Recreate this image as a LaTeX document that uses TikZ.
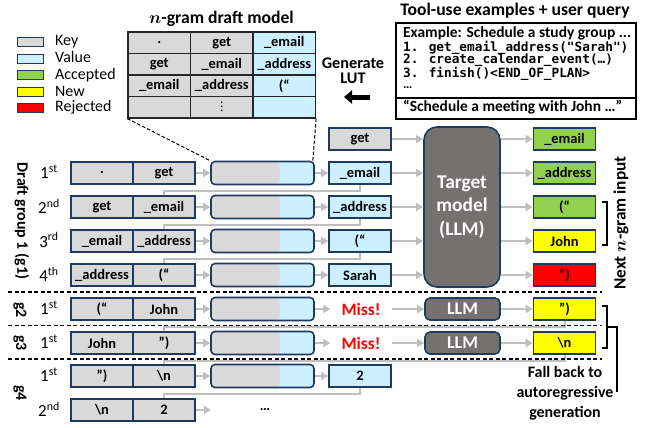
\documentclass[tikz,border=0pt]{standalone}
\usepackage{fontspec}
\setmainfont{Carlito}
\newfontfamily\codefont{DejaVu Sans Mono}
\newfontfamily\symfont{DejaVu Sans}
\usetikzlibrary{arrows.meta,backgrounds}
\definecolor{navy}{HTML}{1F3A5F}
\definecolor{keyg}{HTML}{D9D9D9}
\definecolor{valb}{HTML}{CCF0FF}
\definecolor{accg}{HTML}{92D050}
\definecolor{newy}{HTML}{FFFF00}
\definecolor{rejr}{HTML}{FF0000}
\definecolor{tgt}{HTML}{767171}
\definecolor{arr}{HTML}{BFBFBF}
\begin{document}
\begin{tikzpicture}[x=1bp,y=-1bp,
 cell/.style={draw=navy, line width=1.6bp, minimum width=62bp, minimum height=22bp, inner sep=0pt,
   font=\fontsize{14.5}{15}\selectfont\bfseries},
 kc/.style={cell, fill=keyg}, vc/.style={cell, fill=valb}, ac/.style={cell, fill=accg},
 nc/.style={cell, fill=newy}, rc/.style={cell, fill=rejr},
 tc/.style={draw=black!85, line width=1.3bp, minimum width=62.5bp, minimum height=21.5bp, inner sep=0pt,
   font=\fontsize{14.5}{15}\selectfont\bfseries},
 tk/.style={tc, fill=keyg}, tv/.style={tc, fill=valb},
 lk/.style={draw=navy, line width=1.6bp, rounded corners=4bp, minimum width=103bp, minimum height=23bp, inner sep=0pt,
   path picture={\fill[valb] (path picture bounding box.south west) rectangle (path picture bounding box.north east);
                 \fill[keyg] (path picture bounding box.south west) rectangle ([xshift=-34bp]path picture bounding box.north east);}},
 llm/.style={draw=navy, line width=1.6bp, fill=tgt, rounded corners=5bp, minimum width=75bp, minimum height=22bp,
   inner sep=0pt, text=white, font=\fontsize{18}{19}\selectfont\bfseries},
 ga/.style={draw=arr, line width=2bp, -{Triangle[length=7bp,width=8bp]}},
 fb/.style={draw=arr, line width=2bp},
 sep/.style={draw=black, line width=1.2bp, dash pattern=on 4bp off 2.5bp},
 zoomln/.style={draw=black, line width=1bp, dash pattern=on 3.5bp off 2bp},
 miss/.style={text=red, font=\fontsize{17.4}{18}\selectfont\bfseries, inner xsep=11bp, inner ysep=2bp},
 ord/.style={font=\fontsize{17}{18}\selectfont, inner sep=0pt},
 lab/.style={font=\fontsize{16}{17}\selectfont\bfseries, inner sep=0pt},
 leg/.style={draw=navy, line width=1.6bp, minimum width=26bp, minimum height=9bp, inner sep=0pt},
 legt/.style={font=\fontsize{16}{16}\selectfont, anchor=west, inner sep=0pt},
 brk/.style={draw=black, line width=2bp},
]
\useasboundingbox (0,0) rectangle (650,427);

% ---------- legend ----------
\node[leg, fill=keyg] (lg1) at (30.5,42) {};
\node[leg, fill=valb] (lg2) at (30.5,59) {};
\node[leg, fill=accg] (lg3) at (30.5,75) {};
\node[leg, fill=newy] (lg4) at (30.5,92) {};
\node[leg, fill=rejr] (lg5) at (30.5,108) {};
\node[legt] (lt1) at (55,42) {Key};
\node[legt] (lt2) at (55,57.5) {Value};
\node[legt] (lt3) at (55,75) {Accepted};
\node[legt] (lt4) at (55,91) {New};
\node[legt] (lt5) at (55,107) {Rejected};

% ---------- n-gram table ----------
\node[font=\fontsize{17.7}{19}\selectfont\bfseries] (ttl) at (221.5,19) {{\boldmath$n$}-gram draft model};
\node[tk] (t11) at (159.25,42.75) {.};
\node[tk] (t12) at (221.75,42.75) {get};
\node[tv] (t13) at (284.25,42.75) {\_email};
\node[tk] (t21) at (159.25,64.25) {get};
\node[tk] (t22) at (221.75,64.25) {\_email};
\node[tv] (t23) at (284.25,64.25) {\_address};
\node[tk] (t31) at (159.25,85.75) {\_email};
\node[tk] (t32) at (221.75,85.75) {\_address};
\node[tv] (t33) at (284.25,85.75) {(“};
\node[tk] (t41) at (159.25,107.25) {};
\node[tk, font=\symfont\fontsize{12}{12}\selectfont] (t42) at (221.75,107.25) {⋮};
\node[tv] (t43) at (284.25,107.25) {};

% ---------- tool-use box ----------
\node[font=\fontsize{17.7}{19}\selectfont\bfseries] (tut) at (515,11) {Tool-use examples + user query};
\node[draw=black, line width=1.5bp, minimum width=240bp, minimum height=75bp, inner sep=0pt, anchor=north west] (tbt) at (395,22) {};
\node[draw=black, line width=1.5bp, minimum width=240bp, minimum height=21bp, inner sep=0pt, anchor=north west] (tbb) at (395,97) {};
\node[anchor=west, inner sep=0pt, font=\fontsize{15.5}{16}\selectfont\bfseries] (ex0) at (403,33) {Example: Schedule a study group ...};
\node[anchor=west, inner sep=0pt, font=\codefont\fontsize{12.8}{13}\selectfont\bfseries] (ex1) at (403,47.5) {1. get\_email\_address("Sarah")};
\node[anchor=west, inner sep=0pt, font=\codefont\fontsize{12.8}{13}\selectfont\bfseries] (ex2) at (403,60.5) {2. create\_calendar\_event(…)};
\node[anchor=west, inner sep=0pt, font=\codefont\fontsize{12.8}{13}\selectfont\bfseries] (ex3) at (403,73.5) {3. finish()<END\_OF\_PLAN>};
\node[anchor=west, inner sep=0pt, font=\fontsize{13}{13}\selectfont\bfseries] (ex4) at (403,87.5) {…};
\node[anchor=west, inner sep=0pt, font=\fontsize{15.5}{16}\selectfont\bfseries] (uq) at (403,107.5) {“Schedule a meeting with John …”};

\node[lab, align=center, font=\fontsize{16.3}{15.5}\selectfont\bfseries] (gen) at (353,70.5) {Generate\\[0pt]LUT};
\coordinate (ga1) at (370,97);
\coordinate (ga2) at (344,97);
\draw[line width=5bp, -{Triangle[length=8bp,width=13bp]}] (ga1) -- (ga2);

% ---------- key cells ----------
\node[kc] (k1a) at (102,173) {.};        \node[kc] (k1b) at (164,173) {get};
\node[kc] (k2a) at (102,207) {get};      \node[kc] (k2b) at (164,207) {\_email};
\node[kc] (k3a) at (102,241) {\_email};  \node[kc] (k3b) at (164,241) {\_address};
\node[kc] (k4a) at (102,275) {\_address};\node[kc] (k4b) at (164,275) {(“};
\node[kc] (k5a) at (102,309) {(“};       \node[kc] (k5b) at (164,309) {John};
\node[kc] (k6a) at (102,343) {John};     \node[kc] (k6b) at (164,343) {”)};
\node[kc] (k7a) at (102,376) {”)};       \node[kc] (k7b) at (164,376) {\textbackslash n};
\node[kc] (k8a) at (102,410) {\textbackslash n}; \node[kc] (k8b) at (164,410) {2};

% ---------- lookups ----------
\foreach \i/\y in {1/173,2/207,3/241,4/275,5/309,6/343,7/376}{
  \node[lk] (l\i) at (262.5,\y) {};
}

% ---------- values ----------
\node[kc] (v0) at (360,139) {get};
\node[vc] (v1) at (360,173) {\_email};
\node[vc] (v2) at (360,207) {\_address};
\node[vc] (v3) at (360,241) {(“};
\node[vc] (v4) at (360,275) {Sarah};
\node[vc] (v7) at (360,376) {2};
\node[miss] (m5) at (361,309) {Miss!};
\node[miss] (m6) at (361,343) {Miss!};
\node[font=\fontsize{14.5}{15}\selectfont\bfseries, inner sep=0pt] (dots) at (265,410) {…};
\coordinate (e8) at (211,410);

% ---------- target & LLM ----------
\node[draw=navy, line width=1.6bp, fill=tgt, rounded corners=13bp, minimum width=76bp, minimum height=160bp,
      inner sep=0pt, text=white, align=center, font=\fontsize{19.5}{23.5}\selectfont\bfseries] (T) at (462,207) {Target\\model\\(LLM)};
\node[llm] (llm5) at (462.5,309) {LLM};
\node[llm] (llm6) at (462.5,343) {LLM};

% ---------- outputs ----------
\node[ac] (o0) at (564.5,139) {\_email};
\node[ac] (o1) at (564.5,173) {\_address};
\node[ac] (o2) at (564.5,207) {(“};
\node[nc] (o3) at (564.5,241) {John};
\node[rc] (o4) at (564.5,275) {”)};
\node[nc] (o5) at (564.5,309) {”)};
\node[nc] (o6) at (564.5,343) {\textbackslash n};

% ---------- connectors ----------
\begin{scope}[on background layer]
  \foreach \i in {1,...,7}{ \draw[ga] (k\i b.east) -- (l\i.west); }
  \draw[ga] (k8b.east) -- (e8);
  \foreach \i in {1,2,3,4,7}{ \draw[ga] (l\i.east) -- (v\i.west); }
  \draw[ga] (l5.east) -- (m5.west);
  \draw[ga] (l6.east) -- (m6.west);
  \draw[ga] (m5.east) -- (llm5.west);
  \draw[ga] (m6.east) -- (llm6.west);
  \foreach \i in {0,...,4}{
    \draw[ga] (v\i.east) -- (T.west |- v\i);
    \draw[ga] (T.east |- o\i) -- (o\i.west);
  }
  \draw[ga] (llm5.east) -- (o5.west);
  \draw[ga] (llm6.east) -- (o6.west);
  % feedback
  \draw[fb] (v1.south) -- ++(0,6) -| (k2b.north);
  \draw[fb] (v2.south) -- ++(0,6) -| (k3b.north);
  \draw[fb] (v3.south) -- ++(0,6) -| (k4b.north);
  \draw[fb] (o5.south) -- ++(0,6) -| (k6b.north);
  \draw[fb] (o6.south) -- ++(0,6) -| (k7b.north);
  \draw[fb] (v7.south) -- ++(0,6) -| (k8b.north);
\end{scope}

% zoom lines
\draw[zoomln] (t41.south west) -- (l1.north west);
\draw[zoomln] (t43.south east) -- ([xshift=-2bp]l1.north east);

% separators
\draw[sep] (8,292) -- (602,292);
\draw[sep] (8,325.5) -- (602,325.5);
\draw[sep] (8,359) -- (602,359);

% left labels
\node[lab, rotate=-90] (g1) at (22,221) {Draft group 1 (g1)};
\node[lab, rotate=-90] (g2) at (20,310) {g2};
\node[lab, rotate=-90] (g3) at (20,343) {g3};
\node[lab, rotate=-90] (g4) at (20,393) {g4};
\node[ord] (n1) at (49,172) {1\textsuperscript{st}};
\node[ord] (n2) at (49,206) {2\textsuperscript{nd}};
\node[ord] (n3) at (49,240) {3\textsuperscript{rd}};
\node[ord] (n4) at (49,274) {4\textsuperscript{th}};
\node[ord] (n5) at (49,308) {1\textsuperscript{st}};
\node[ord] (n6) at (49,342) {1\textsuperscript{st}};
\node[ord] (n7) at (49,375) {1\textsuperscript{st}};
\node[ord] (n8) at (49,409) {2\textsuperscript{nd}};

% right brackets and labels
\coordinate (b1a) at (602,202); \coordinate (b1b) at (607,202);
\coordinate (b1c) at (607,245); \coordinate (b1d) at (602,245);
\draw[brk] (b1a) -- (b1b) -- (b1c) -- (b1d);
\node[lab, rotate=90, font=\fontsize{17.3}{18}\selectfont\bfseries] (nxt) at (621,223) {Next {\boldmath$n$}-gram input};

\coordinate (b2a) at (602,306); \coordinate (b2b) at (607,306);
\coordinate (b2c) at (607,348); \coordinate (b2d) at (602,348);
\coordinate (b2m) at (607,327); \coordinate (b2e) at (617,327); \coordinate (b2f) at (617,392);
\draw[brk] (b2a) -- (b2b) -- (b2c) -- (b2d);
\draw[brk] (b2m) -- (b2e) -- (b2f);
\node[lab, align=center, font=\fontsize{16}{20}\selectfont\bfseries] (fbk) at (565,393) {Fall back to\\autoregressive\\generation};
\end{tikzpicture}
\end{document}
